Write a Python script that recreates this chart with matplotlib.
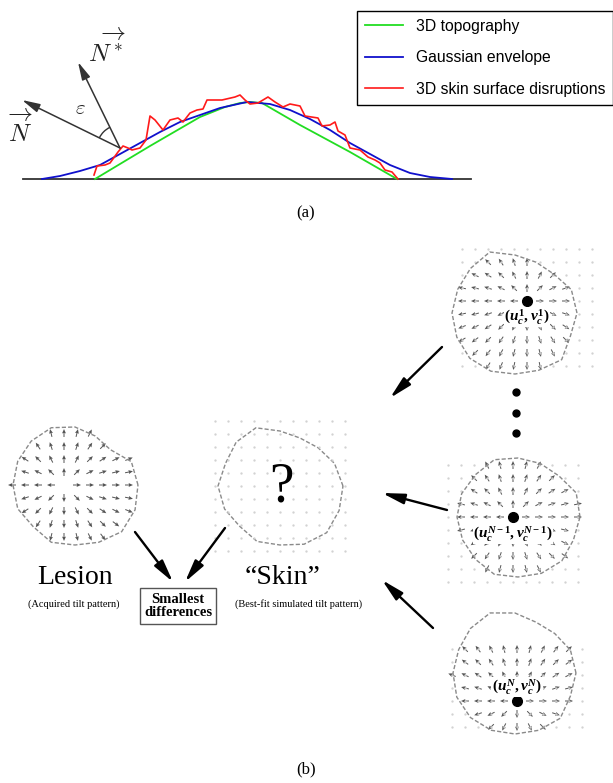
import numpy as np
import matplotlib.pyplot as plt
from matplotlib.path import Path
from matplotlib.patches import Arc

plt.rcParams['mathtext.fontset'] = 'custom'
plt.rcParams['mathtext.rm'] = 'Liberation Serif:bold'
plt.rcParams['mathtext.it'] = 'Liberation Serif:italic:bold'
plt.rcParams['mathtext.bf'] = 'Liberation Serif:bold'

# ---- panel (a): profiles (x in px, height above baseline in px)
topo_x = [95, 150, 200, 225, 240, 250, 262, 300, 350, 397]
topo_h = [0, 33, 62, 72, 76, 77, 76, 54, 27, 0]

env_x = [42, 60, 80, 100, 120, 140, 160, 180, 200, 220, 247, 270, 290, 310,
         330, 350, 370, 390, 410, 430, 452]
env_h = [0, 3, 8, 14, 25, 36, 47, 57, 64, 71, 77, 75, 69, 60,
         49, 36, 25, 14, 6, 2, 0]

skin_x = [94, 97, 105, 110, 118, 123, 128, 132, 140, 146, 150, 155, 163, 170,
          178, 183, 190, 197, 203, 207, 222, 235, 240, 245, 250, 258, 268, 275,
          283, 290, 300, 305, 318, 322, 330, 335, 338, 345, 350, 360, 368, 375,
          380, 385, 392, 398]
skin_h = [4, 13, 14, 16, 27, 33, 31, 29, 31, 39, 63, 59, 49, 59,
          61, 57, 66, 69, 70, 79, 79, 82, 84, 79, 75, 76, 82, 77,
          72, 75, 73, 63, 61, 53, 54, 57, 48, 44, 31, 29, 22, 19,
          16, 9, 7, 0]

series_labels = ['3D topography', 'Gaussian envelope', '3D skin surface disruptions']

# ---- panel (b): blob outlines, radius every 22.5 deg
angles = np.arange(16) * 22.5
lesion_r = [63, 61, 50, 53, 58, 62, 62, 62, 62, 62, 59, 62, 60, 62, 66, 65]
skin_r = [63, 59, 54, 52, 55, 63, 62, 59, 62, 60, 57, 60, 59, 63, 66, 64]
sim1_r = [62, 61, 55, 55, 58, 66, 63, 62, 63, 63, 64, 63, 61, 62, 66, 60]
sim2_r = [62, 63, 58, 58, 59, 62, 60, 61, 61, 60, 60, 62, 60, 61, 62, 60]
sim3_r = [61, 60, 56, 55, 60, 65, 63, 61, 62, 63, 63, 62, 61, 62, 64, 60]

sim_labels = [r'$(u_c^{1},v_c^{1})$', r'$(u_c^{N-1},v_c^{N-1})$',
              r'$(u_c^{N},v_c^{N})$']

fig = plt.figure(figsize=(6.13, 7.83), dpi=100)
ax = fig.add_axes([0, 0, 1, 1])
ax.set_xlim(0, 613)
ax.set_ylim(783, 0)
ax.axis('off')

ax_top = fig.add_axes([0, 1 - 190 / 783, 1, 190 / 783])
ax_top.set_xlim(0, 613)
ax_top.set_ylim(-11, 179)
ax_top.axis('off')
ax_top.patch.set_alpha(0)

# panel (a)
ax_top.plot([23, 471], [0, 0], color='#333333', lw=1.3)
ax_top.plot(topo_x, topo_h, color='#22dd22', lw=1.3, label=series_labels[0])
ax_top.plot(env_x, env_h, color='#1010cc', lw=1.3, label=series_labels[1])
ax_top.plot(skin_x, skin_h, color='#ff1a1a', lw=1.2, label=series_labels[2])

leg = ax_top.legend(loc='upper left', bbox_to_anchor=(357 / 613, 1 - 11 / 190),
                    bbox_transform=ax_top.transAxes, fancybox=False,
                    edgecolor='black', framealpha=1, borderaxespad=0,
                    handlelength=2.4, handletextpad=0.85, labelspacing=1.05,
                    borderpad=0.5, prop={'family': 'Liberation Sans', 'size': 11.3})
leg.get_frame().set_linewidth(1.0)

org = (120, 31)
for tip in [(22, 79), (78, 117)]:
    ax_top.annotate('', xy=tip, xytext=org,
                    arrowprops=dict(arrowstyle='-|>,head_length=0.9,head_width=0.22',
                                    color='#333333', lw=1.1, shrinkA=0, shrinkB=0,
                                    mutation_scale=12))
ax_top.add_patch(Arc(org, 46, 46, theta1=116, theta2=154, color='#333333', lw=1.0))
ax_top.text(21, 51, r'$\overrightarrow{N}$', fontsize=18, ha='center', va='center',
            math_fontfamily='cm', color='#222222')
ax_top.text(107, 131, r'$\overrightarrow{N^*}$', fontsize=18, ha='center', va='center',
            math_fontfamily='cm', color='#222222')
ax_top.text(80, 71, r'$\varepsilon$', fontsize=15, ha='center', va='center',
            math_fontfamily='cm', color='#222222')

ax.text(306, 213, '(a)', fontsize=12, family='Liberation Serif', ha='center', va='center')
ax.text(306, 769, '(b)', fontsize=12, family='Liberation Serif', ha='center', va='center')


# panel (b)
def outline(cx, cy, radii):
    a = np.radians(angles)
    r = np.asarray(radii, dtype=float)
    x = cx + r * np.cos(a)
    y = cy - r * np.sin(a)
    return np.append(x, x[0]), np.append(y, y[0])


def draw_blob(cx, cy, radii):
    x, y = outline(cx, cy, radii)
    ax.plot(x, y, color='#8a8a8a', lw=1.0, dashes=(3, 1.5))
    return Path(np.column_stack([x, y]))


def grid_points(ox, oy, nx0, nx1, ny0, ny1, step=13):
    gx = ox + step * np.arange(nx0, nx1 + 1)
    gy = oy + step * np.arange(ny0, ny1 + 1)
    X, Y = np.meshgrid(gx, gy)
    return X.ravel(), Y.ravel()


def arrow_field(path, ox, oy, X, Y, length=8):
    inside = path.contains_points(np.column_stack([X, Y]), radius=-3)
    px, py = X[inside], Y[inside]
    dx, dy = px - ox, py - oy
    d = np.hypot(dx, dy)
    keep = d > 1
    px, py, dx, dy, d = px[keep], py[keep], dx[keep], dy[keep], d[keep]
    ax.quiver(px, py, dx / d * length, dy / d * length, angles='xy',
              scale_units='xy', scale=1, pivot='middle', width=0.0016,
              headwidth=4, headlength=4.5, headaxislength=4, color='#555555')


# lesion
p = draw_blob(75, 485, lesion_r)
X, Y = grid_points(64, 485, -4, 5, -4, 4)
arrow_field(p, 64, 485, X, Y)

# skin (unknown)
draw_blob(280, 486, skin_r)
X, Y = grid_points(280, 486, -5, 5, -5, 5)
ax.plot(X, Y, '.', ms=1.3, color='#d0d0d0')
ax.text(281, 487, '?', fontsize=40, family='Liberation Serif', ha='center', va='center')

# simulated patterns
sims = [(515, 313, 527, 301, sim1_r, 317),
        (518, 517, 513, 517, sim2_r, 534),
        (515, 673, 517, 701, sim3_r, 687)]
for (cx, cy, ox, oy, rr, ly), lab in zip(sims, sim_labels):
    X, Y = grid_points(ox, oy, -5, 5, -4, 5)
    sel = (Y > cy - 66) & (Y < cy + 66)
    X, Y = X[sel], Y[sel]
    ax.plot(X, Y, '.', ms=1.3, color='#d0d0d0')
    p = draw_blob(cx, cy, rr)
    arrow_field(p, ox, oy, X, Y)
    ax.plot(ox, oy, 'o', ms=7, color='black')
    ax.text(ox, ly, lab, fontsize=11, ha='center', va='center',
            bbox=dict(facecolor='white', edgecolor='none', pad=0.3))

ax.plot([516, 516, 516], [392, 413, 433], 'o', ms=5, color='black')

big_arrows = [((442, 347), (390, 398)), ((447, 510), (382, 493)),
              ((433, 628), (382, 580)), ((135, 532), (173, 582)),
              ((225, 528), (185, 582))]
for tail, head in big_arrows:
    ax.annotate('', xy=head, xytext=tail,
                arrowprops=dict(arrowstyle='-|>,head_length=0.95,head_width=0.22',
                                color='black', lw=1.7, shrinkA=0, shrinkB=0,
                                mutation_scale=14))

ax.text(75, 578, 'Lesion', fontsize=20, family='Liberation Serif', ha='center', va='center')
ax.text(74, 604, '(Acquired tilt pattern)', fontsize=7.5, family='Liberation Serif',
        ha='center', va='center')
ax.text(283, 578, '\u201cSkin\u201d', fontsize=20, family='Liberation Serif',
        ha='center', va='center')
ax.text(299, 604, '(Best-fit simulated tilt pattern)', fontsize=7.5,
        family='Liberation Serif', ha='center', va='center')
ax.text(178, 606, 'Smallest\ndifferences', fontsize=10.5, family='Liberation Serif',
        weight='bold', ha='center', va='center', linespacing=1.05,
        bbox=dict(facecolor='white', edgecolor='#555555', boxstyle='square,pad=0.3', lw=1.0))

fig.savefig('out.png', dpi=100)
